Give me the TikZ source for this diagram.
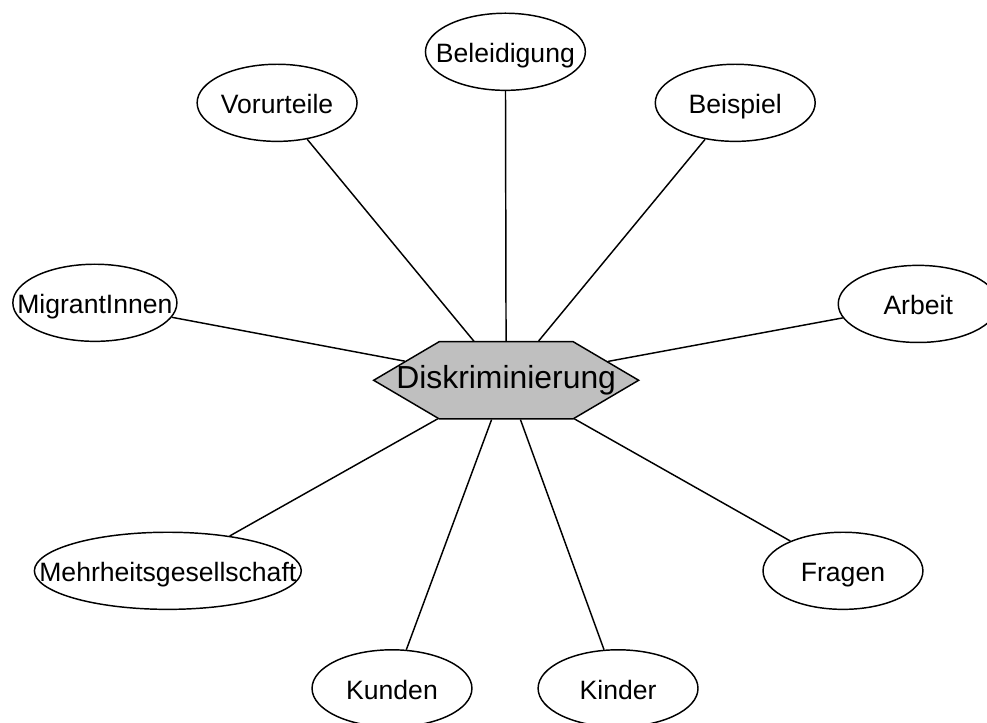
\documentclass[tikz,border=0pt]{standalone}
\usepackage{fontspec}
\setmainfont{Liberation Sans}
\usepackage{tikz}
\usetikzlibrary{shapes.geometric, shapes.symbols}

\begin{document}
\begin{tikzpicture}[
  term/.style={ellipse, draw, line width=1.1pt, inner xsep=-1.1cm, inner ysep=0pt,
    text height=0.58cm, text depth=0pt,
    minimum width=4.23cm, minimum height=2.04cm,
    font=\fontsize{20}{22}\selectfont},
  hub/.style={signal, signal to=east and west, signal pointer angle=61,
    draw, line width=1.1pt, fill=gray!50, inner xsep=-1.5cm,
    minimum width=7.01cm, minimum height=2.04cm,
    font=\fontsize{24}{26}\selectfont},
  link/.style={line width=1.1pt}
]
\useasboundingbox (0,0) rectangle (26.11,19.10);

% centre
\node[hub] at (13.39,9.04) (disk) {Diskriminierung};

% outer terms
\node[term] at (13.37,17.73) (beleid) {Beleidigung};
\node[term] at (7.33,16.38) (vorurt) {Vorurteile};
\node[term] at (19.45,16.38) (beisp) {Beispiel};
\node[term, minimum width=4.34cm] at (2.51,11.09) (migr) {MigrantInnen};
\node[term] at (24.29,11.06) (arbeit) {Arbeit};
\node[term, minimum width=7.06cm] at (4.44,4.00) (mehrh) {Mehrheitsgesellschaft};
\node[term] at (22.30,4.00) (fragen) {Fragen};
\node[term] at (10.37,0.89) (kunden) {Kunden};
\node[term] at (16.35,0.89) (kinder) {Kinder};

% spokes
\draw[link] (disk) -- (beleid);
\draw[link] (disk) -- (vorurt);
\draw[link] (disk) -- (beisp);
\draw[link] (disk) -- (migr);
\draw[link] (disk) -- (arbeit);
\draw[link] (disk) -- (mehrh);
\draw[link] (disk) -- (fragen);
\draw[link] (disk) -- (kunden);
\draw[link] (disk) -- (kinder);
\end{tikzpicture}
\end{document}
